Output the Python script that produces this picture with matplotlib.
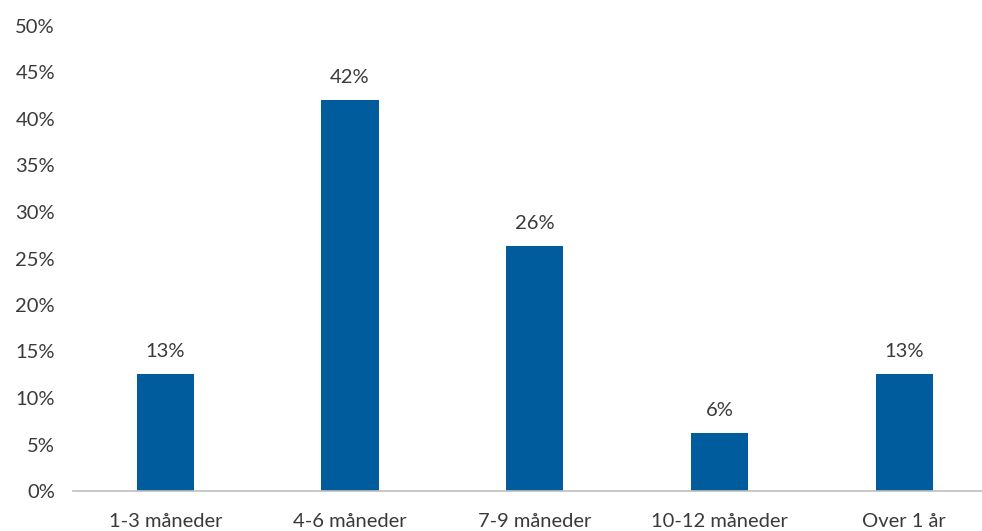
import matplotlib.pyplot as plt

# data
categories = ['1-3 måneder', '4-6 måneder', '7-9 måneder', '10-12 måneder', 'Over 1 år']
values = [12.6, 42.0, 26.3, 6.2, 12.6]
labels = ['13%', '42%', '26%', '6%', '13%']
yticks = [0, 5, 10, 15, 20, 25, 30, 35, 40, 45, 50]

bar_blue = '#005C9C'
text_gray = '#3A3A3A'
axis_gray = '#BFBFBF'

plt.rcParams['font.family'] = ['Lato', 'DejaVu Sans']

fig = plt.figure(figsize=(9.82, 5.31), dpi=100)
ax = fig.add_axes([73 / 982, 40 / 531, 923.5 / 982, 465 / 531])

x = range(len(categories))
bars = ax.bar(x, values, width=0.31, color=bar_blue, zorder=2)

for b, lab in zip(bars, labels):
    ax.text(b.get_x() + b.get_width() / 2, b.get_height() + 1.5, lab,
            ha='center', va='bottom', fontsize=14.5, color=text_gray)

ax.set_xlim(-0.5, len(categories) - 0.5)
ax.set_ylim(0, 50)
ax.set_yticks(yticks)
ax.set_yticklabels([f'{t}%' for t in yticks])
ax.set_xticks(list(x))
ax.set_xticklabels(categories)

for s in ['top', 'right', 'left']:
    ax.spines[s].set_visible(False)
ax.spines['bottom'].set_color(axis_gray)
ax.spines['bottom'].set_linewidth(1.2)

ax.tick_params(axis='y', length=0, pad=13, labelsize=14.5, labelcolor=text_gray)
ax.tick_params(axis='x', length=0, pad=16, labelsize=14.5, labelcolor=text_gray)

fig.savefig('out.png', dpi=100)
